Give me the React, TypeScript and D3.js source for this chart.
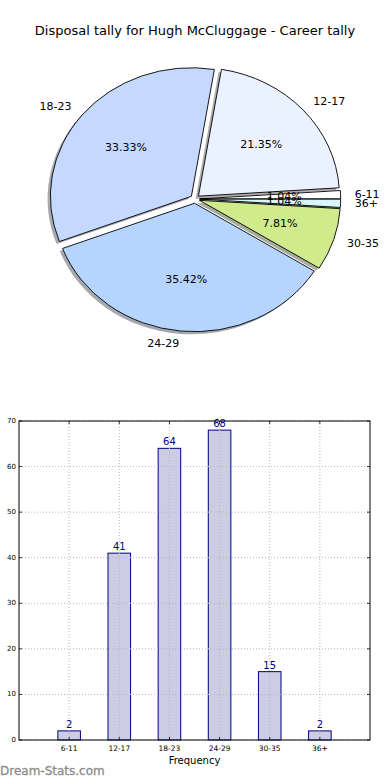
import React from "react";
import * as d3 from "d3";

const categories = ["6-11", "12-17", "18-23", "24-29", "30-35", "36+"];
const tally = [2, 41, 64, 68, 15, 2];
const sliceColors = ["#ffffff", "#eaf1ff", "#c5d9ff", "#b5d5ff", "#cfeb8b", "#d6f6fc"];
const yTicks = [0, 10, 20, 30, 40, 50, 60, 70];

const W = 390;
const H = 780;

// pie geometry (matplotlib style, no equal aspect -> ellipse)
const cx = 195;
const cy = 199;
const rx = 141;
const ry = 128.5;
const explode = 0.033;

// bar axes box
const box = { left: 19, right: 370, top: 421, bottom: 740 };

function darken(c: string) {
  const rgb = d3.rgb(c);
  return d3.rgb(rgb.r * 0.3, rgb.g * 0.3, rgb.b * 0.3).toString();
}

function Pie() {
  const total = d3.sum(tally);
  // d3 angles: clockwise from 12 o'clock; matplotlib starts at 3 o'clock going ccw
  const arcs = d3
    .pie<number>()
    .sort(null)
    .startAngle(Math.PI / 2)
    .endAngle(Math.PI / 2 - 2 * Math.PI)(tally);
  const arc = d3.arc<d3.PieArcDatum<number>>().innerRadius(0).outerRadius(1);

  const items = arcs.map((a, i) => {
    const mid = (a.startAngle + a.endAngle) / 2;
    const dx = Math.sin(mid);
    const dy = -Math.cos(mid);
    const ox = cx + explode * rx * dx;
    const oy = cy + explode * ry * dy;
    return { a, i, dx, dy, ox, oy };
  });

  return (
    <g>
      {items.map(({ a, i, ox, oy }) => (
        <path
          key={"s" + i}
          d={arc(a) || ""}
          transform={`translate(${ox - 0.02 * rx},${oy + 0.02 * ry}) scale(${rx},${ry})`}
          fill={darken(sliceColors[i])}
          opacity={0.45}
        />
      ))}
      {items.map(({ a, i, ox, oy }) => (
        <path
          key={"w" + i}
          d={arc(a) || ""}
          transform={`translate(${ox},${oy}) scale(${rx},${ry})`}
          fill={sliceColors[i]}
          stroke="#000"
          strokeWidth={0.9}
          vectorEffect="non-scaling-stroke"
          strokeLinejoin="round"
        />
      ))}
      {items.map(({ i, dx, dy, ox, oy }) => {
        const lx = ox + 1.1 * rx * dx;
        const ly = oy + 1.1 * ry * dy;
        return (
          <text
            key={"l" + i}
            x={lx}
            y={ly}
            textAnchor={dx > 0 ? "start" : "end"}
            dominantBaseline="central"
            fontSize={11}
          >
            {categories[i]}
          </text>
        );
      })}
      {items.map(({ i, dx, dy, ox, oy }) => (
        <text
          key={"p" + i}
          x={ox + 0.6 * rx * dx}
          y={oy + 0.6 * ry * dy}
          textAnchor="middle"
          dominantBaseline="central"
          fontSize={11}
        >
          {((tally[i] / total) * 100).toFixed(2)}%
        </text>
      ))}
    </g>
  );
}

function Bars() {
  const x = d3.scaleLinear().domain([-1, 6]).range([box.left, box.right]);
  const y = d3.scaleLinear().domain([0, 70]).range([box.bottom, box.top]);
  const bw = x(0.45) - x(0);
  const grid = "#b8b8b8";
  return (
    <g>
      {tally.map((v, i) => (
        <rect
          key={"b" + i}
          x={x(i) - bw / 2}
          y={y(v)}
          width={bw}
          height={y(0) - y(v)}
          fill="#ccccE5"
          stroke="#000080"
          strokeWidth={1}
        />
      ))}
      {yTicks.map((t) => (
        <line key={"gy" + t} x1={box.left} x2={box.right} y1={y(t)} y2={y(t)} stroke={grid} strokeDasharray="1,2" />
      ))}
      {categories.map((c, i) => (
        <line key={"gx" + i} x1={x(i)} x2={x(i)} y1={box.top} y2={box.bottom} stroke={grid} strokeDasharray="1,2" />
      ))}
      {tally.map((v, i) => (
        <text key={"v" + i} x={x(i)} y={y(v) - 3} textAnchor="middle" fontSize={10} fill="#000080">
          {v}
        </text>
      ))}
      {/* inward ticks on all sides */}
      {yTicks.map((t) => (
        <g key={"ty" + t} stroke="#000" strokeWidth={0.8}>
          <line x1={box.left} x2={box.left + 3} y1={y(t)} y2={y(t)} />
          <line x1={box.right - 3} x2={box.right} y1={y(t)} y2={y(t)} />
        </g>
      ))}
      {categories.map((c, i) => (
        <g key={"tx" + i} stroke="#000" strokeWidth={0.8}>
          <line x1={x(i)} x2={x(i)} y1={box.bottom - 3} y2={box.bottom} />
          <line x1={x(i)} x2={x(i)} y1={box.top} y2={box.top + 3} />
        </g>
      ))}
      <rect
        x={box.left}
        y={box.top}
        width={box.right - box.left}
        height={box.bottom - box.top}
        fill="none"
        stroke="#000"
        strokeWidth={1}
      />
      {yTicks.map((t) => (
        <text key={"yl" + t} x={box.left - 3} y={y(t)} textAnchor="end" dominantBaseline="central" fontSize={7}>
          {t}
        </text>
      ))}
      {categories.map((c, i) => (
        <text key={"xl" + i} x={x(i)} y={box.bottom + 11} textAnchor="middle" fontSize={7.5}>
          {c}
        </text>
      ))}
      <text x={(box.left + box.right) / 2} y={box.bottom + 24} textAnchor="middle" fontSize={10}>
        Frequency
      </text>
    </g>
  );
}

export default function App() {
  return (
    <svg
      width={W}
      height={H}
      style={{ position: "absolute", left: 0, top: 0, background: "#fff" }}
      fontFamily="DejaVu Sans"
    >
      <rect width={W} height={H} fill="#fff" />
      <text x={195} y={30} textAnchor="middle" dominantBaseline="central" fontSize={13}>
        Disposal tally for Hugh McCluggage - Career tally
      </text>
      <Pie />
      <Bars />
      <text x={0} y={775} fontSize={12} fill="#8c8c8c" stroke="#8c8c8c" strokeWidth={0.3}>
        Dream-Stats.com
      </text>
    </svg>
  );
}
